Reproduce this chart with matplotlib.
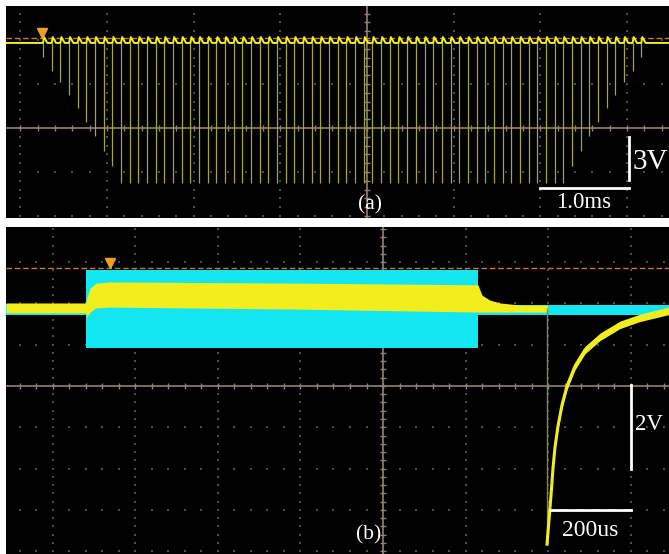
import matplotlib
matplotlib.use('Agg')
import matplotlib.pyplot as plt
import numpy as np

plt.rcParams['font.family'] = ['Liberation Serif', 'DejaVu Serif']

# ---------------- panel (a): pulse train, 1.0 ms/div, 3 V/div
a_xlim = (-4.164, 3.483)       # ms
a_ylim = (-6.14, 8.32)         # V
a_base = 5.80                  # idle level of the trace
a_over = 6.20                  # overshoot after each pulse
a_ref = 6.14                   # orange reference level
a_first = -3.737               # first pulse (ms)
a_period = 0.1                 # pulse period (ms)
a_ramp = [4.84, 3.89, 3.14, 2.25, 1.36, 0.41, -0.55, -1.57, -2.59]
a_full = -3.75
a_nfull = 52
a_trig = (-3.75, 6.48)

# ---------------- panel (b): 200 us/div, 1 V/div
b_xlim = (-913.9, 693.3)       # us
b_ylim = (-4.07, 3.85)         # V
b_ref = 2.86
b_trig = (-662, 2.98)

cyan_x = [-913.9, -720, -720, 230, 230, 693.3]
cyan_top = [1.98, 1.98, 2.81, 2.81, 1.96, 1.96]
cyan_bot = [1.72, 1.72, 0.92, 0.92, 1.72, 1.72]

yel_x = [-913.9, -720, -720, -710, -696, -662, -201, 228, 230, 240, 259, 284, 332, 398]
yel_top = [2.01, 2.01, 2.08, 2.37, 2.49, 2.52, 2.49, 2.45, 2.45, 2.20, 2.08, 2.01, 1.96, 1.96]
yel_bot = [1.77, 1.77, 1.65, 1.79, 1.89, 1.91, 1.86, 1.79, 1.79, 1.79, 1.79, 1.79, 1.79, 1.79]

drop_x = 397.6
drop_top, drop_bot = 1.86, -3.83
rec_x = [397.6, 402.4, 407.3, 412.1, 417.0, 424.2, 433.9, 446.1, 465.5, 489.7,
         526.1, 574.5, 623.0, 693.3]
rec_y = [-3.83, -3.24, -2.64, -1.99, -1.48, -0.97, -0.46, 0.0, 0.48, 0.87,
         1.19, 1.48, 1.65, 1.82]

YEL = '#f2ee1e'
DIM = '#a6a632'
CYAN = '#12e6f0'
ORANGE = '#c8782a'
GRID = '#4c4c4c'
AXC = '#8e8472'


def scope_axes(rect, xlim, ylim, xdiv, ydiv):
    ax = fig.add_axes(rect)
    ax.set_facecolor('black')
    ax.set_xlim(*xlim)
    ax.set_ylim(*ylim)
    ax.set_xticks([])
    ax.set_yticks([])
    for s in ax.spines.values():
        s.set_visible(False)
    xs = np.arange(np.ceil(xlim[0] / xdiv), np.floor(xlim[1] / xdiv) + 1) * xdiv
    ys = np.arange(np.ceil(ylim[0] / ydiv), np.floor(ylim[1] / ydiv) + 1) * ydiv
    xminor = np.arange(np.ceil(xlim[0] / xdiv * 5), np.floor(xlim[1] / xdiv * 5) + 1) * xdiv / 5
    yminor = np.arange(np.ceil(ylim[0] / ydiv * 5), np.floor(ylim[1] / ydiv * 5) + 1) * ydiv / 5
    for x in xs:
        if abs(x) > 1e-9:
            ax.scatter(np.full_like(yminor, x), yminor, s=0.9, marker='s', c=GRID, lw=0, zorder=1)
    for y in ys:
        if abs(y) > 1e-9:
            ax.scatter(xminor, np.full_like(xminor, y), s=0.9, marker='s', c=GRID, lw=0, zorder=1)
    # centre cross with tick marks
    ax.axhline(0, color=AXC, lw=1.2, zorder=1)
    ax.axvline(0, color=AXC, lw=1.2, zorder=1)
    ax.plot(xminor, np.zeros_like(xminor), ls='none', marker='|', ms=5, mew=1, color=AXC, zorder=1)
    ax.plot(np.zeros_like(yminor), yminor, ls='none', marker='_', ms=5, mew=1, color=AXC, zorder=1)
    return ax


fig = plt.figure(figsize=(6.69, 5.54), dpi=100, facecolor='white')

# ---------------- (a)
ax = scope_axes([6 / 669, (554 - 218) / 554, 663 / 669, 212 / 554], a_xlim, a_ylim, 1.0, 3.0)
depths = a_ramp + [a_full] * a_nfull + a_ramp[::-1]
times = a_first + a_period * np.arange(len(depths))
ax.axhline(a_ref, color=ORANGE, lw=1, ls=(0, (4, 2)), zorder=2)
ax.vlines(times, depths, a_base, color=DIM, lw=0.9, zorder=3)
tx, ty = [a_xlim[0]], [a_base]
for t in times:
    tx += [t, t + 0.012, t + 0.05]
    ty += [a_base, a_over, a_base]
tx.append(a_xlim[1])
ty.append(a_base)
ax.plot(tx, ty, color=YEL, lw=1.4, zorder=4)
ax.plot(*a_trig, marker='v', ms=7, color='#f0a020', zorder=5)
# scale bars
ax.plot([3.02, 3.02], [-0.61, -3.55], color='white', lw=2, zorder=5)
ax.plot([2.0, 3.02], [-4.09, -4.09], color='white', lw=2, zorder=5)
ax.text(3.06, -2.3, '3V', color='white', fontsize=21, ha='left', va='center', zorder=6)
ax.text(2.50, -5.05, '1.0ms', color='white', fontsize=16.5, ha='center', va='center', zorder=6)
ax.text(0.035, -5.25, '(a)', color='white', fontsize=15.5, ha='center', va='center', zorder=6)

# ---------------- (b)
ax = scope_axes([6 / 669, 0, 663 / 669, 327 / 554], b_xlim, b_ylim, 200, 1.0)
ax.fill_between(cyan_x, cyan_bot, cyan_top, color=CYAN, lw=0, zorder=2)
ax.axhline(b_ref, color=ORANGE, lw=1, ls=(0, (4, 2)), zorder=3)
ax.fill_between(yel_x, yel_bot, yel_top, color=YEL, lw=0, zorder=4)
ax.plot([drop_x, drop_x], [drop_top, drop_bot], color='#8a8a3a', lw=1, zorder=4)
rx = np.array(rec_x)
ry = np.array(rec_y)
ax.fill_between(rx, ry - 0.09, ry + 0.09, color=YEL, lw=0, zorder=5)
ax.plot(rx, ry, color=YEL, lw=2.2, zorder=5)
ax.plot(*b_trig, marker='v', ms=7, color='#f0a020', zorder=6)
ax.plot([600, 600], [0.02, -2.0], color='white', lw=2, zorder=6)
ax.plot([405, 600], [-3.0, -3.0], color='white', lw=2, zorder=6)
ax.text(611, -0.94, '2V', color='white', fontsize=16.5, ha='left', va='center', zorder=7)
ax.text(502, -3.51, '200us', color='white', fontsize=17, ha='center', va='center', zorder=7)
ax.text(-36, -3.61, '(b)', color='white', fontsize=15.5, ha='center', va='center', zorder=7)

fig.savefig('out.png', dpi=100, facecolor='white')
